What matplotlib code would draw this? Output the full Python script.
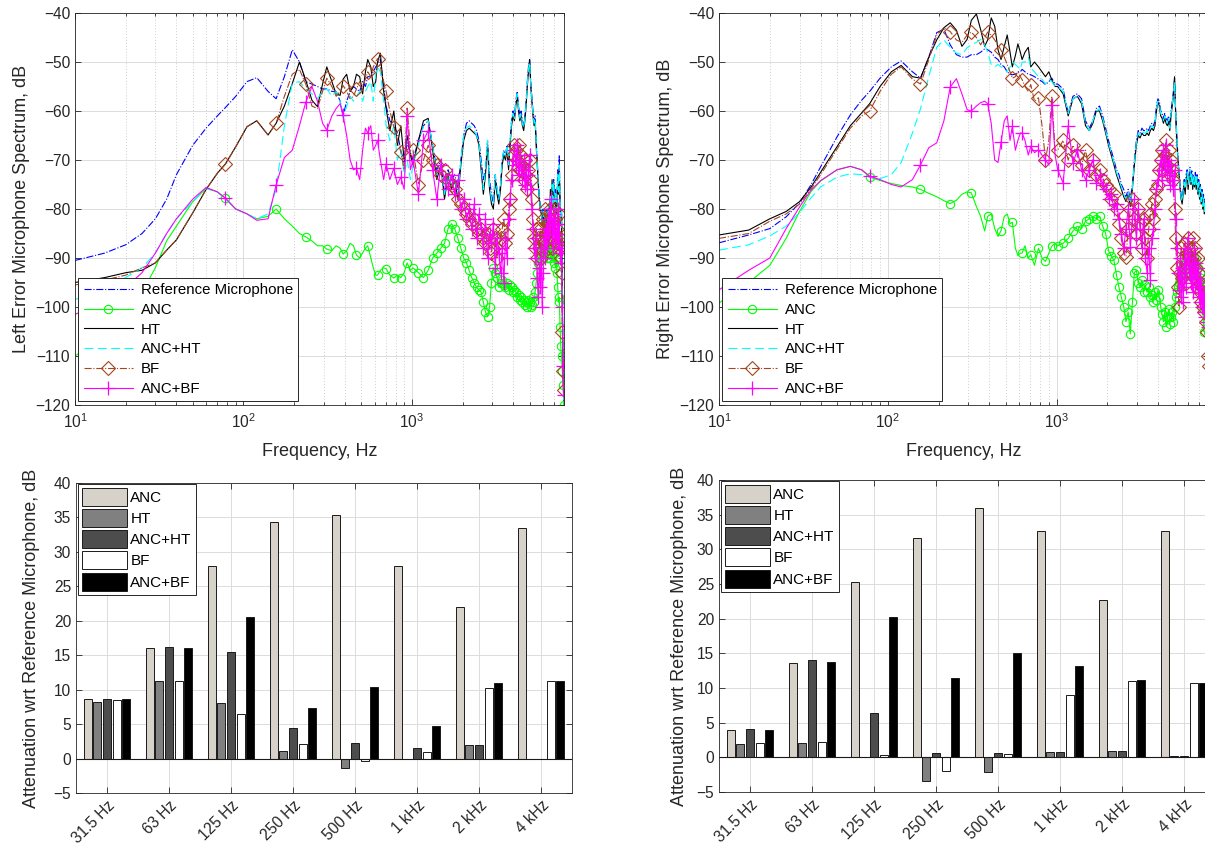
import matplotlib
matplotlib.use("Agg")
import matplotlib.pyplot as plt
import numpy as np
from matplotlib.ticker import LogLocator, NullFormatter, MultipleLocator

plt.rcParams['font.family'] = ['Liberation Sans', 'DejaVu Sans']
plt.rcParams['mathtext.fontset'] = 'custom'
plt.rcParams['mathtext.rm'] = 'Liberation Sans'

# ---------------- spectrum data ----------------
# frequency grid: hand picked points below 1 kHz, then FFT bins of 78.125 Hz
freq_lo = [10, 15, 20, 25, 30, 35, 40, 50, 60, 70,
           78.125, 90, 105, 120, 140, 156.25, 175, 195, 215, 234.375,
           255, 275, 295, 312.5, 335, 355, 375, 390.625, 410, 430,
           450, 468.75, 490, 510, 530, 546.875, 570, 590, 610, 625,
           650, 680, 703.125, 740, 781.25, 820, 859.375, 900, 937.5, 980]
freq = np.concatenate([freq_lo, 78.125 * np.arange(13, 103)])
# markers sit on the 78.125 Hz bins
mark_idx = [10, 15, 19, 23, 27, 31, 35, 39, 42, 44, 46, 48] + list(range(50, 140))

left_ref = [-90.5, -89, -87.3, -85, -82, -78, -73, -67, -63.5, -61,
            -59.3, -57, -54, -53.2, -56, -57.5, -53, -47.5, -50, -54,
            -54.5, -55, -55.5, -55.5, -56, -56, -58, -61, -58, -56,
            -55, -55.5, -56, -54, -55, -53, -53, -52, -51, -50.5,
            -49.5, -55, -59, -62, -63, -64.5, -68, -70.5, -66.5, -68.5,
            -70, -66, -63, -62, -67, -72, -70, -77, -72, -74,
            -73, -76, -70, -65, -62.5, -62, -62.5, -63, -64, -66,
            -70, -74, -72, -66, -74, -77, -79, -73, -76, -78,
            -75, -70, -68, -69, -67, -71, -66, -62, -60, -61,
            -58, -56, -59, -61, -60, -62, -63, -61, -58, -54,
            -51, -49.5, -54, -57, -60, -62, -61, -66, -70, -74,
            -77, -79, -80, -82, -80, -83, -81, -84, -80, -82,
            -79, -81, -78, -80, -77, -79, -74, -78, -76, -80,
            -78, -72, -76, -69, -78, -82, -80, -96, -110, -119]
left_anc = [-110, -106, -102, -97, -92, -86.5, -83.5, -78.5, -75.8, -76.5,
            -77.8, -80, -81, -82, -81.5, -80, -82, -83.5, -85, -85.7,
            -86.5, -87.5, -87.5, -88.2, -88.5, -87.5, -88, -89.2, -88.5, -87,
            -87.5, -89.4, -90, -89, -88, -87.5, -90, -92, -93.5, -93.5,
            -92.5, -92, -92.2, -93.5, -94.1, -93.5, -94, -93, -91, -92.5,
            -92, -93, -94, -92.5, -90, -89, -88, -87, -84, -83,
            -84, -86, -88, -90, -91, -92.5, -94, -95, -96, -96.5,
            -97, -99, -101, -102, -100, -95, -92, -93, -94, -96,
            -95, -94.5, -95.5, -96, -95, -96.5, -95.5, -96, -97, -96.5,
            -97, -98, -97.5, -98.5, -98, -99, -98.5, -99.5, -99, -100,
            -98.5, -99, -100, -99.5, -98, -99, -97, -95, -93, -91,
            -90, -89, -90.5, -88, -90, -87.5, -89, -88, -90, -87,
            -89, -88, -90, -87.5, -89.5, -88, -91, -89, -92, -90,
            -93, -96, -99, -98, -104, -108, -110, -113, -116, -120]
left_ht = [-95, -94, -93, -92.5, -91, -88.4, -86.3, -80.8, -76, -72.7,
           -70.8, -67.3, -63.2, -62, -64.9, -62.5, -59, -54.4, -50, -53.7,
           -57.8, -59.1, -54.5, -51, -54, -56.5, -56.8, -53.5, -52.5, -56,
           -55, -52.5, -53, -56.5, -52, -49.5, -51, -55, -54, -50,
           -48.2, -56, -59.5, -64, -60, -67, -63, -70, -65, -69,
           -71, -66, -62, -61.5, -68, -74, -71, -78, -73, -76,
           -74, -78, -71, -66, -64, -63.5, -64, -64.5, -65, -67,
           -72, -77, -73, -67, -76, -79, -80, -74, -77, -79,
           -76, -71, -69, -70, -68, -72, -67, -63, -61, -62,
           -59, -57, -60, -62, -61, -63, -64, -62, -59, -55,
           -52, -49.5, -55, -58, -61, -63, -62, -67, -71, -75,
           -78, -80, -81, -83, -81, -84, -82, -85, -81, -83,
           -80, -82, -76, -81, -74, -80, -75, -79, -77, -81,
           -79, -74, -77, -72, -79, -83, -81, -98, -112, -119]
left_ancht = [-98.5, -96, -94, -92, -89, -85, -82, -78.5, -75.8, -76.5,
              -78, -80, -81, -82, -81, -76, -63, -54.3, -54, -55.5,
              -56.5, -57.5, -56, -55.5, -57, -56, -58, -61.5, -59, -57,
              -58, -57, -56, -58, -56, -55, -54, -58, -52.5, -51,
              -52, -58, -63, -66, -63, -70, -68, -73, -70, -74,
              -71, -67, -63, -62, -67, -73, -71, -77, -73, -75,
              -74, -77, -70, -65, -63.5, -63, -63.5, -64, -65, -66.5,
              -71, -76, -72, -66, -75, -78, -79, -73, -76, -78,
              -75, -70, -68, -69, -67, -71, -66, -62, -60.5, -61.5,
              -58.5, -56.5, -59.5, -61.5, -60.5, -62.5, -63.5, -61.5, -58.5, -54.5,
              -51.5, -50, -54.5, -57.5, -60.5, -62.5, -61.5, -66.5, -70.5, -74.5,
              -77.5, -79.5, -80.5, -82.5, -80.5, -83.5, -81.5, -84.5, -80.5, -82.5,
              -79.5, -81.5, -77, -80.5, -75, -79.5, -74.5, -78.5, -76.5, -80.5,
              -78.5, -73, -76.5, -71, -78.5, -82.5, -80.5, -97, -111, -119]
left_bf = [-95.5, -94.5, -93.5, -92, -91, -88.4, -86.3, -80.8, -76, -72.7,
           -70.9, -67.3, -63.2, -62, -64.9, -62.5, -57, -52.5, -51.5, -54.5,
           -59, -59.5, -56, -53.3, -55, -57, -56, -54.8, -56, -57.5,
           -57, -55.5, -54, -55, -53.5, -52, -53, -51, -50, -49.3,
           -51, -54, -56, -60, -63.2, -66, -68.3, -72, -59.4, -68,
           -68, -75, -70, -67, -70, -71, -73, -72, -74, -75,
           -76, -78, -79, -80, -81, -82, -83, -82, -84, -85,
           -84, -86, -87, -85, -88, -89, -84, -86, -90, -87,
           -86, -84, -82, -87, -85, -80, -78, -73, -69, -67,
           -68, -70, -67, -72, -69, -71, -74, -70, -73, -76,
           -72, -70, -74, -78, -82, -86, -88, -84, -90, -86,
           -88, -84, -90, -86, -82, -87, -80, -85, -83, -88,
           -84, -80, -86, -82, -88, -83, -80, -85, -82, -86,
           -84, -87, -81, -88, -86, -90, -93, -105, -113, -117]
left_ancbf = [-101.5, -99, -96, -93, -89, -85, -82, -78, -75.6, -76.5,
              -77.8, -80, -81, -82.3, -82, -75.1, -69.5, -68, -63, -58.2,
              -55, -58, -62.5, -63.9, -61, -59.5, -58.5, -60.9, -65, -70,
              -72, -71.7, -74, -68, -63.5, -64.5, -63, -68, -67, -66,
              -70, -74, -70.8, -74, -71.7, -75, -73.5, -76, -61, -72,
              -70, -77, -66, -64, -72, -78, -71, -74, -76, -73,
              -77, -74, -80, -78, -82, -80, -84, -79, -86, -81,
              -84, -88, -82, -90, -85, -87, -83, -92, -86, -89,
              -93, -88, -95, -86, -90, -82, -78, -74, -70, -68,
              -71, -67, -73, -69, -72, -74, -70, -75, -72, -76,
              -73, -69, -76, -80, -84, -88, -90, -86, -94, -98,
              -92, -96, -88, -100, -93, -85, -90, -84, -88, -82,
              -86, -80, -84, -78, -83, -88, -81, -86, -83, -87,
              -85, -80, -88, -83, -89, -91, -88, -100, -112, -118]

right_ref = [-86.9, -85.3, -84, -81.6, -78.8, -75.1, -71.4, -65.3, -60.8, -57.8,
             -56, -53.3, -51, -49.8, -52, -53.3, -49, -44, -43.3, -46.5,
             -48.5, -49, -49, -48.5, -48.5, -48, -47.3, -47.5, -48, -49,
             -49.5, -50.5, -51, -52, -52.5, -52.6, -52.5, -52, -52, -51.5,
             -52, -52.5, -52.6, -53, -53.5, -54, -54.6, -54, -53.3, -54.5,
             -54.5, -55.5, -60.5, -57, -56.5, -57.5, -62, -63.5, -62, -59.5,
             -59, -61, -63.5, -66, -68, -70, -72, -73, -75, -76,
             -77.5, -76, -78, -75, -70, -66, -64, -64.5, -63.5, -64,
             -64, -63.5, -64, -63, -62.5, -63, -62, -59, -57.5, -58,
             -60, -60.5, -61.5, -60.5, -61.5, -62, -61, -63, -60, -58,
             -56, -53.5, -60, -65, -69, -72, -75, -77, -78, -76,
             -74, -75.5, -73, -72, -74.5, -73, -71.5, -74, -72, -75,
             -73, -74.5, -72.5, -75, -73, -76, -74, -77, -75, -78,
             -76, -79, -77, -80, -78, -81, -79, -84, -90, -96]
right_anc = [-99.2, -95, -91.5, -86, -80.5, -76.5, -74.3, -72, -71.3, -72,
             -73.5, -74.2, -74.8, -75.2, -75.5, -76, -76.8, -77.5, -78.3, -78.9,
             -78.2, -77, -76.5, -76.7, -79.5, -81.5, -84.5, -81.5, -81, -84,
             -85.6, -84.4, -81.5, -81, -83, -82.7, -88, -89.5, -89, -89,
             -87.5, -90, -89.3, -91.5, -88, -90, -90.7, -89, -87.6, -87,
             -87.5, -87, -86, -84.5, -83.5, -84, -82.5, -82, -81.5, -82,
             -81.5, -83.5, -85, -88.5, -89.5, -90.5, -93.5, -96, -98, -100,
             -103, -101, -105.5, -99, -93, -92.5, -95, -96, -94.5, -97,
             -95.5, -97, -96, -98, -97.5, -99, -97, -98.5, -96.5, -98,
             -100, -101.5, -103, -101, -104, -102, -100.5, -103.5, -102, -101,
             -103, -100, -98, -97, -96, -95, -94.5, -93, -92, -94,
             -91, -93, -90, -92, -89.5, -91.5, -90, -93, -91, -94,
             -92, -90, -93.5, -91, -94, -92, -95, -93, -96, -94,
             -97, -95, -105, -100, -98, -101, -99, -103, -105, -106]
right_ht = [-85.3, -84.3, -82, -80.5, -78.5, -75.6, -72.5, -67.3, -63, -60.4,
            -58.5, -55, -52, -50.7, -53, -53.3, -49, -45.5, -43, -42,
            -43.5, -46.8, -45.4, -41.5, -40.2, -43.4, -46.8, -45.5, -41, -42.7,
            -47.5, -49.5, -46.8, -44.5, -48, -51, -48.7, -46.3, -48, -49.5,
            -48, -47, -51, -50, -51, -52, -53, -52, -53.7, -55,
            -55, -56.5, -61, -57.5, -57, -58.5, -63, -64, -62.5, -60,
            -60, -62, -64.5, -67, -69, -71, -73, -74.5, -76, -77.5,
            -78.5, -77, -79.5, -76, -71, -67, -65, -65.5, -64.5, -65,
            -65, -64.5, -65, -64, -63.5, -64, -63, -60, -58, -59,
            -61, -61.5, -62.5, -61.5, -62.5, -63, -62, -64, -61, -59,
            -57, -53, -61, -66, -70, -73, -76, -78, -79, -77,
            -75, -77, -74, -73, -76, -74, -72.5, -75, -73, -76,
            -74, -75.5, -73.5, -76, -74, -77, -75, -78, -76, -79,
            -77, -80, -78, -81, -79, -82, -80, -85, -91, -97]
right_ancht = [-88.4, -87.3, -85.5, -83.5, -80.7, -77.8, -75.5, -73.5, -72.8, -73,
               -73.5, -73.8, -73, -70.5, -64.5, -59.5, -53, -47, -45.5, -47,
               -48.2, -48.5, -47.1, -46.5, -46, -45.4, -46.5, -48, -50.5, -51,
               -50.5, -51, -51.5, -52, -51, -50, -50.5, -51, -51.5, -50,
               -50, -49, -51.2, -52, -53, -53.5, -54.5, -53.5, -54, -55,
               -55, -56, -60.5, -57.5, -57, -58, -62.5, -64, -62, -60,
               -59.5, -61.5, -64, -66.5, -68.5, -70.5, -72.5, -74, -75.5, -77,
               -78, -76.5, -79, -75.5, -70.5, -66.5, -64.5, -65, -64, -64.5,
               -64.5, -64, -64.5, -63.5, -63, -63.5, -62.5, -59.5, -58, -58.5,
               -60.5, -61, -62, -61, -62, -62.5, -61.5, -63.5, -60.5, -58.5,
               -56.5, -54, -60.5, -65.5, -69.5, -72.5, -75.5, -77.5, -78.5, -76.5,
               -74.5, -76, -73.5, -72.5, -75, -73.5, -72, -74.5, -72.5, -75.5,
               -73.5, -75, -73, -75.5, -73.5, -76.5, -74.5, -77.5, -75.5, -78.5,
               -76.5, -79.5, -77.5, -80.5, -78.5, -81.5, -79.5, -84.5, -90.5, -96.5]
right_bf = [-86, -85, -82.5, -81, -79, -76, -73, -67.8, -63.5, -61,
            -60, -56, -52.5, -51, -53.5, -54.5, -49.5, -44.5, -43, -43.8,
            -45.5, -46, -44.5, -43.9, -45, -46.5, -45, -43.9, -44.5, -45.5,
            -46.5, -47.6, -49, -50.5, -52, -53.3, -53, -52, -53, -53.6,
            -55, -56, -54.6, -58, -57.3, -63, -70, -66, -57, -68,
            -68, -66, -70, -67, -69, -71, -68, -72, -70, -73,
            -72, -74, -75, -76, -78, -77, -80, -83, -86, -89,
            -89.7, -84, -80, -78, -82, -85, -80, -83, -88, -82,
            -86, -90, -84, -81, -79, -82, -78, -76, -75, -72,
            -70, -68, -72, -69, -66, -71, -68, -73, -70, -72,
            -74, -80, -86, -92, -96, -100, -93, -88, -94, -90,
            -87, -92, -95, -89, -86, -90, -93, -88, -91, -86,
            -90, -94, -88, -92, -96, -90, -93, -97, -95, -99,
            -96, -100, -98, -101, -97, -103, -99, -105, -110, -112]
right_ancbf = [-96.5, -92.5, -90, -84, -79.6, -76.2, -74.2, -72, -71.3, -72,
               -73.3, -74, -75, -75.5, -74, -71, -67.5, -66.5, -62, -55.1,
               -53.4, -56.5, -59.7, -60, -59, -58.3, -58, -58.5, -62.5, -70,
               -70.5, -66.4, -62, -61, -66, -63.1, -68, -66, -64.5, -64.5,
               -66, -69, -67.2, -68.5, -67.9, -69, -70, -71, -58.7, -69,
               -72, -74.7, -63, -70.6, -68, -72, -74, -72, -70, -74.7,
               -73, -75, -76, -78, -77, -80, -79, -82, -85, -88,
               -84, -80, -87.7, -82, -78, -86, -80, -84, -88, -82,
               -90, -93, -88, -94.5, -86, -84, -80, -76, -74, -72,
               -70, -74, -68, -72, -67, -73, -70, -75, -71, -74,
               -76, -72, -82, -88, -93, -96.5, -90, -98, -92, -99,
               -94, -88, -96, -90, -86, -93, -89, -95, -91, -97,
               -93, -88, -96, -91, -95, -92, -98, -94, -99, -96,
               -100, -97, -101, -98, -102, -99, -103, -100, -104, -101]

# ---------------- attenuation bar data ----------------
bands = ['31.5 Hz', '63 Hz', '125 Hz', '250 Hz', '500 Hz', '1 kHz', '2 kHz', '4 kHz']
bar_names = ['ANC', 'HT', 'ANC+HT', 'BF', 'ANC+BF']
left_att = [[8.6, 16.1, 27.9, 34.4, 35.3, 28.0, 22.0, 33.5],   # ANC
            [8.2, 11.3, 8.0, 1.1, -1.3, 0.0, 1.9, 0.0],        # HT
            [8.6, 16.2, 15.5, 4.5, 2.3, 1.6, 2.0, 0.0],        # ANC+HT
            [8.5, 11.3, 6.4, 2.1, -0.3, 1.0, 10.3, 11.3],      # BF
            [8.6, 16.1, 20.5, 7.3, 10.4, 4.7, 11.0, 11.3]]     # ANC+BF
right_att = [[3.9, 13.6, 25.3, 31.7, 35.9, 32.6, 22.7, 32.7],
             [1.9, 2.1, 0.1, -3.4, -2.1, 0.7, 0.9, 0.2],
             [4.1, 14.1, 6.4, 0.6, 0.6, 0.8, 0.9, 0.2],
             [2.1, 2.2, 0.4, -2.0, 0.5, 9.0, 11.0, 10.7],
             [4.0, 13.8, 20.3, 11.5, 15.0, 13.2, 11.1, 10.7]]
bar_colors = ['#D6D2CA', '#808080', '#4D4D4D', '#FFFFFF', '#000000']

W, H = 1205, 856
fig = plt.figure(figsize=(W / 100, H / 100), dpi=100)


def px_axes(x0, y0, x1, y1):
    return fig.add_axes([x0 / W, 1 - y1 / H, (x1 - x0) / W, (y1 - y0) / H])


def style_axes(ax):
    for s in ax.spines.values():
        s.set_color('#262626')
        s.set_linewidth(0.6)
    ax.tick_params(which='both', direction='in', top=True, right=True,
                   labelsize=11.2, colors='#262626', width=0.6)
    ax.tick_params(which='major', length=4)
    ax.tick_params(which='minor', length=2.5)
    ax.set_axisbelow(True)


def spectrum(ax, series, ylabel):
    ref, anc, ht, ancht, bf, ancbf = series
    ax.semilogx(freq, ref, color='#0000FF', ls='-.', lw=0.8, label='Reference Microphone')
    ax.semilogx(freq, anc, color='#00FF00', ls='-', lw=0.8, marker='o', ms=6,
                mfc='none', mew=0.8, markevery=mark_idx, label='ANC')
    ax.semilogx(freq, ht, color='k', ls='-', lw=0.8, label='HT')
    ax.semilogx(freq, ancht, color='#00FFFF', ls=(0, (8, 4)), lw=0.8, label='ANC+HT')
    ax.semilogx(freq, bf, color='#A5461E', ls='-.', lw=0.8, marker='D', ms=7,
                mfc='none', mew=0.8, markevery=mark_idx, label='BF')
    ax.semilogx(freq, ancbf, color='#FF00FF', ls='-', lw=0.8, marker='+', ms=9.5,
                mew=0.9, markevery=mark_idx, label='ANC+BF')
    ax.set_xlim(10, 8000)
    ax.set_ylim(-120, -40)
    ax.set_yticks(np.arange(-120, -39, 10))
    ax.xaxis.set_major_locator(LogLocator(base=10, numticks=10))
    ax.xaxis.set_minor_locator(LogLocator(base=10, subs=np.arange(2, 10), numticks=20))
    ax.xaxis.set_minor_formatter(NullFormatter())
    ax.grid(True, which='major', color='#DCDCDC', lw=0.7)
    ax.grid(True, which='minor', axis='x', color='#BDBDBD', lw=0.6, ls=(0, (1, 2.5)))
    style_axes(ax)
    ax.tick_params(axis='x', pad=5)
    ax.set_xlabel('Frequency, Hz', fontsize=13, color='#262626', labelpad=9)
    ax.set_ylabel(ylabel, fontsize=13, color='#262626', labelpad=4)
    leg = ax.legend(loc='lower left', bbox_to_anchor=(0.007, 0.01), fontsize=10.8,
                    handlelength=3.3, numpoints=1, fancybox=False, edgecolor='#262626',
                    framealpha=1, borderpad=0.35, labelspacing=0.38,
                    handletextpad=0.5, borderaxespad=0)
    leg.get_frame().set_linewidth(0.7)


def attenuation(ax, data, ypad):
    x = np.arange(1, len(bands) + 1)
    offs = [-0.31, -0.155, 0, 0.155, 0.31]
    for vals, name, col, off in zip(data, bar_names, bar_colors, offs):
        ax.bar(x + off, vals, 0.13, color=col, edgecolor='#1A1A1A', lw=0.7, label=name)
    ax.axhline(0, color='#1A1A1A', lw=0.8)
    ax.set_xlim(0.5, 8.5)
    ax.set_ylim(-5, 40)
    ax.yaxis.set_major_locator(MultipleLocator(5))
    ax.set_xticks(x)
    ax.set_xticklabels(bands, rotation=45, ha='right', rotation_mode='anchor')
    ax.grid(True, color='#DCDCDC', lw=0.7)
    style_axes(ax)
    ax.set_ylabel('Attenuation wrt Reference Microphone, dB', fontsize=13,
                  color='#262626', labelpad=ypad)
    leg = ax.legend(loc='upper left', bbox_to_anchor=(0.005, 0.997), fontsize=11,
                    handlelength=2.95, handleheight=1.45, fancybox=False,
                    edgecolor='#262626', framealpha=1, borderpad=0.25,
                    labelspacing=0.2, handletextpad=0.2, borderaxespad=0)
    leg.get_frame().set_linewidth(0.7)


ax1 = px_axes(75, 13, 564, 405)
spectrum(ax1, [left_ref, left_anc, left_ht, left_ancht, left_bf, left_ancbf],
         'Left Error Microphone Spectrum, dB')
ax2 = px_axes(719, 13, 1209, 405)
spectrum(ax2, [right_ref, right_anc, right_ht, right_ancht, right_bf, right_ancbf],
         'Right Error Microphone Spectrum, dB')
ax3 = px_axes(76, 483, 572, 793)
attenuation(ax3, left_att, 10)
ax4 = px_axes(719, 480, 1215, 792)
attenuation(ax4, right_att, 6)

fig.savefig('out.png', dpi=100)
